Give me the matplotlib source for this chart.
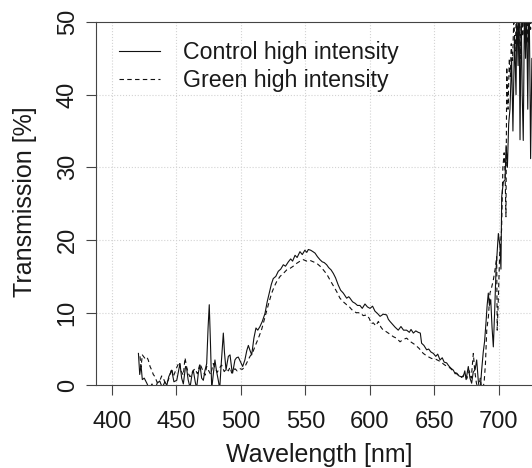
import matplotlib.pyplot as plt

plt.rcParams['font.family'] = ['Liberation Sans', 'DejaVu Sans']

# Control high intensity (solid)
wl_control = [420.5, 421.5, 422.5, 423.5, 425, 427, 429, 431, 433, 435, 437, 439, 441, 442.5,
              444, 446.3, 448, 450.2, 452.7, 454, 455.3, 457, 457.9, 459, 460.5, 462, 463,
              464.5, 465.6, 467, 468.2, 469.5, 470.8, 472, 473.4, 474.5, 475.4, 476.3, 477.3,
              478.5, 479.8, 481, 482.4, 483.5, 484.5, 486.3, 487.2, 488.4, 489.2, 490.2,
              491.5, 492.8, 493.5, 495.3, 496.5, 497.9, 499.5, 501.3, 503, 504.5, 505.7, 507,
              508.3, 510, 511.6, 513, 514.7, 516.5, 518.6, 520.3, 521.9, 523.5, 525, 527,
              528.9, 530.8, 532.8, 534.5, 536.7, 538.5, 540, 541.9, 543.5, 545.7, 547.5,
              549.5, 551, 552.2, 554, 555.8, 557.4, 559.3, 561.2, 563, 564.5, 566.4, 568,
              569.8, 571.6, 573.3, 575.4, 577.2, 579.3, 581.9, 583.5, 584.5, 586.5, 588.4,
              590.3, 592.2, 594, 596.1, 598, 600, 602, 603.9, 605.8, 607.8, 610.3, 612.9,
              614.2, 615.5, 617.5, 619.5, 621.9, 624, 626, 628.4, 630.5, 631.8, 633.6, 635.5,
              637.4, 639, 640, 641.8, 643.9, 645.5, 647.2, 649.1, 651, 652.5, 654.3, 656,
              657.5, 659.4, 661, 662.5, 664.6, 666, 667.2, 669, 670.5, 672.3, 673.5, 674.5,
              676.2, 677.5, 678.8, 680, 681.5, 682.7, 684, 685.3, 686.5, 687.8, 688.8, 689.9,
              690.8, 691.7, 692.6, 693.6, 694.6, 695.6, 696.6, 697.7, 698.6, 699.5, 700.8,
              701.5, 702.1, 703.4, 704.7, 705.5, 706.5, 707.5, 708.5, 709.8, 710.8, 712,
              713.2, 713.8, 714.8, 715.5, 716.3, 717.2, 718, 718.8, 719.8, 720.6, 721.4,
              722.3, 723.2, 724, 724.5, 725.5, 726.5]
t_control = [4.4, 1.5, 2.8, 0.8, 1.0, 0.3, -0.5, 0.2, -0.8, 0.3, 0.6, -0.3, 0.5, 0.0,
             1.2, 2.1, 0.5, 0.7, 3.0, 1.0, 0.2, 2.6, 2.3, 0.8, -0.3, 1.5, 2.1,
             0.5, -0.4, 1.8, 2.8, 1.0, 0.7, 2.0, 3.0, 8.0, 11.1, 6.0, -0.5,
             1.5, 3.5, 2.0, 0.7, -0.5, 2.5, 7.2, 4.5, 2.1, 3.0, 4.0,
             4.2, 2.3, 1.7, 3.5, 3.8, 3.9, 3.3, 2.6, 3.5, 4.8, 5.5, 4.8,
             4.2, 6.5, 7.9, 7.6, 8.1, 8.8, 9.9, 11.5, 12.7, 13.9, 14.7, 15.0,
             15.7, 16.0, 16.6, 16.4, 17.0, 17.4, 17.1, 17.9, 17.6, 18.4, 18.0,
             18.6, 18.3, 18.7, 18.6, 18.4, 18.2, 17.7, 17.3, 17.0, 16.9, 16.6, 16.2,
             15.9, 15.4, 14.8, 13.8, 13.1, 12.7, 12.0, 12.2, 12.0, 11.5, 11.3,
             11.0, 11.0, 10.6, 11.2, 10.8, 10.6, 10.9, 10.2, 9.9, 9.5, 9.8, 9.7,
             9.1, 8.8, 8.4, 8.0, 7.6, 8.1, 7.6, 7.6, 7.3, 7.7, 7.2, 7.5,
             7.3, 7.2, 5.8, 5.5, 4.9, 5.0, 4.6, 4.4, 4.0, 4.3, 3.5, 3.8,
             3.2, 3.1, 2.7, 2.4, 2.1, 1.6, 1.7, 1.3, 1.2, 1.2, 2.0, 0.8,
             2.6, 1.0, 0.3, 1.8, 2.2, 3.5, 0.5, -1.0, 2.0, 4.6, 6.0, 8.6,
             11.0, 12.7, 11.0, 11.8, 8.0, 5.3, 10.0, 15.9, 18.5, 20.9, 19.1,
             16.0, 26.0, 28.0, 28.3, 33.0, 30.0, 36.0, 38.0, 45.0, 35.0, 48.0,
             40.0, 52.0, 44.0, 54.0, 33.8, 52.0, 40.0, 33.7, 53.0, 45.0, 52.0,
             38.0, 55.0, 42.0, 31.2, 45.0, 40.0]

# Green high intensity (dashed)
wl_green = [421.7, 422.5, 423.5, 425.6, 427, 428.1, 429.5, 430.8, 432, 433.3, 435, 437.2,
            438.5, 439.8, 441.5, 443.6, 445, 446.3, 447.5, 448.8, 450.5, 452.2, 453.5,
            455.3, 456.6, 457.9, 459.3, 460.5, 462.5, 464.3, 466.2, 468.2, 470, 472.1,
            473.4, 474.7, 476.5, 478.5, 480, 481.6, 483.3, 485, 487, 488.9, 490.2, 491.5,
            492.8, 494.5, 495.3, 497, 499.2, 501, 503.1, 505, 507, 509, 510.9, 513.5, 516,
            518, 519.9, 521.8, 523.8, 525.8, 527.7, 530.3, 532.8, 535.5, 538, 540.5,
            543.2, 545.8, 548.3, 551, 553.5, 556, 558.7, 561.3, 563.8, 566.5, 569, 571.6,
            574.2, 576.7, 579.3, 581.9, 583.2, 585, 587.1, 589.5, 592.2, 594.8, 597.4,
            599.5, 601, 602.6, 604.5, 606.5, 608.5, 610.3, 612.5, 615, 618.1, 620.5,
            623.3, 625.5, 628.4, 631.5, 634.9, 638, 641.3, 644.5, 647.8, 651, 654.3, 658,
            662, 665, 668.5, 671, 673, 675, 677, 678.5, 680.1, 681.2, 682.5, 684, 685.5,
            687, 688.5, 689.5, 690.5, 691.8, 693, 694.3, 695.6, 697, 698.2, 698.6, 699.5,
            700.5, 702, 703, 704, 704.7, 705.4, 706, 707, 708, 708.8, 709.5, 710.5, 711.5,
            712.5, 713.6, 714.5, 715.5, 716.5, 717.5, 718.5, 719.5, 720.5, 721.5, 722.5,
            723.5, 724.5, 725.5]
t_green = [4.0, 2.5, 4.2, 3.7, 3.9, 3.5, 2.6, 2.1, 1.5, 1.2, 0.4, 0.7,
           1.3, 1.0, 0.2, 0.7, 1.5, 2.3, 1.2, 1.8, 2.6, 3.2, 2.0,
           1.4, 3.8, 2.5, 1.6, 1.2, 1.9, 2.3, 1.6, 3.0, 2.2, 1.4,
           2.6, 2.1, 1.5, 3.0, 2.3, 1.8, 2.4, 2.8, 1.9, 2.3, 2.0, 2.5,
           1.7, 2.0, 2.3, 2.0, 2.3, 2.2, 2.6, 3.3, 4.0, 4.5, 5.4, 6.5, 7.7,
           9.0, 10.2, 11.5, 12.7, 13.6, 14.3, 15.0, 15.4, 15.9, 16.1, 16.4,
           16.8, 17.1, 17.3, 17.1, 17.2, 17.0, 16.8, 16.4, 15.9, 15.3, 14.5, 13.7,
           12.9, 12.0, 11.5, 11.1, 11.0, 10.6, 10.2, 10.0, 10.0, 9.6, 9.7,
           9.2, 8.5, 8.6, 8.2, 8.8, 8.0, 7.6, 7.4, 7.1, 6.7, 6.5,
           6.0, 6.3, 6.5, 6.0, 5.6, 5.1, 4.4, 4.0, 3.7, 3.6, 3.3, 2.8,
           2.4, 1.9, 1.4, 1.1, 1.5, 0.9, 2.0, 1.0, 4.4, 2.0, 0.3, -0.5, 1.0,
           -1.0, 0.5, 3.0, 7.6, 9.5, 12.7, 13.5, 14.5, 16.0, 17.7, 7.6, 12.0,
           18.0, 21.4, 30.0, 32.0, 29.2, 23.2, 43.8, 38.0, 45.0, 42.5, 47.0, 44.7, 50.5,
           46.0, 52.0, 47.0, 53.0, 45.0, 52.0, 48.0, 54.0, 46.0, 53.0, 47.0,
           52.0, 49.0, 53.0]

x_ticks = [400, 450, 500, 550, 600, 650, 700]
y_ticks = [0, 10, 20, 30, 40, 50]

W, H = 532, 468
fig = plt.figure(figsize=(W / 100, H / 100), dpi=100)
# axes run past the right edge of the picture, as in the cropped original
ax = fig.add_axes([96 / W, (H - 385.4) / H, 467.5 / W, 363.4 / H])

ax.plot(wl_control, t_control, color='#111111', lw=0.8, label='Control high intensity')
ax.plot(wl_green, t_green, color='#111111', lw=0.8, linestyle=(0, (4, 3)),
        label='Green high intensity')

ax.set_xlim(387.6, 750)
ax.set_ylim(0, 50)
ax.set_xticks(x_ticks)
ax.set_yticks(y_ticks)

for v in x_ticks:
    ax.axvline(v, color='#d3d3d3', lw=0.8, linestyle=':', zorder=0)
for v in y_ticks[1:-1]:
    ax.axhline(v, color='#d3d3d3', lw=0.8, linestyle=':', zorder=0)

for s in ['left', 'bottom', 'top']:
    ax.spines[s].set_color('#444444')
    ax.spines[s].set_linewidth(0.8)
ax.spines['right'].set_visible(False)

ax.tick_params(axis='both', length=7.5, width=0.8, color='#444444',
               labelsize=17, labelcolor='#1a1a1a')
ax.tick_params(axis='x', pad=11)
ax.tick_params(axis='y', pad=5, labelrotation=90)
for lab in ax.get_yticklabels():
    lab.set_va('center')

fig.text(319 / W, 1 - 455 / H, 'Wavelength [nm]', ha='center', va='center',
         fontsize=18, color='#1a1a1a')
fig.text(25.5 / W, 1 - 202 / H, 'Transmission [%]', ha='center', va='center',
         rotation=90, fontsize=18, color='#1a1a1a')

ax.legend(loc='upper left', bbox_to_anchor=(118.8 / W, 1 - 41 / H),
          bbox_transform=fig.transFigure, frameon=False, fontsize=16.7,
          handlelength=1.76, handletextpad=1.0, labelspacing=0.2,
          borderpad=0, borderaxespad=0, labelcolor='#1a1a1a')

fig.savefig('out.png', dpi=100)
